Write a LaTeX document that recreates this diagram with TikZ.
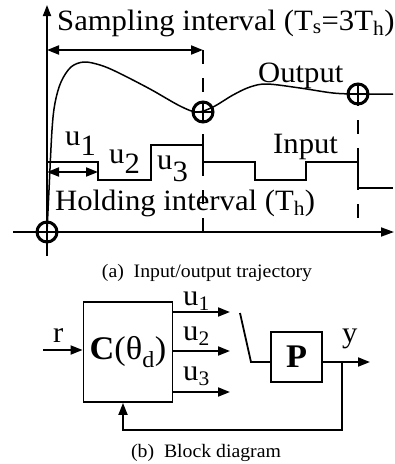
\documentclass[tikz,border=0pt]{standalone}
\usepackage{fontspec}
\setmainfont[FakeStretch=1.04]{Liberation Serif}
\usetikzlibrary{arrows.meta}
\begin{document}
\begin{tikzpicture}[x=1pt,y=-1pt]
\tikzset{
  ln/.style={line width=1.8pt},
  tipend/.style={-{Triangle[length=12pt,width=9pt]}},
  tipboth/.style={{Triangle[length=12pt,width=9pt]}-{Triangle[length=12pt,width=9pt]}},
  markc/.style={line width=3pt},
  dline/.style={line width=1.8pt, dash pattern=on 14pt off 14pt},
  lbl/.style={font=\fontsize{29.5}{30}\selectfont, inner sep=0pt, anchor=base west},
  capt/.style={font=\fontsize{19}{19}\selectfont, inner sep=0pt},
  blk/.style={draw, line width=1.8pt, inner sep=0pt},
}
\useasboundingbox (0,0) rectangle (395,464);
% ---------- (a) ----------
\coordinate (ybot) at (47,256);
\coordinate (ytop) at (47,5);
\coordinate (xl) at (13,232);
\coordinate (xr) at (394,232);
\draw[ln, -{Triangle[length=11pt,width=8pt]}] (ybot) -- (ytop);
\draw[ln, -{Triangle[length=13pt,width=9pt]}] (xl) -- (xr);
% sampling arrow
\coordinate (sa) at (47,50);
\coordinate (sb) at (203,50);
\draw[ln, tipboth] (sa) -- (sb);
% dashed verticals
\coordinate (d1a) at (203,50);
\coordinate (d1b) at (203,232);
\coordinate (d2a) at (358,92);
\coordinate (d2b) at (358,218);
\draw[dline] (d1a) -- (d1b);
\draw[dline] (d2a) -- (d2b);
% holding arrow
\coordinate (ha) at (47,172);
\coordinate (hb) at (98,172);
\draw[ln, tipboth] (ha) -- (hb);
% input staircase
\coordinate (in0) at (47,162);
\coordinate (in1) at (393,188);
\draw[ln] (in0) -- (98,162) -- (98,180) -- (151,180) -- (151,145) -- (203,145)
  -- (203,162) -- (255,162) -- (255,180) -- (306,180) -- (306,162) -- (358,162)
  -- (358,188) -- (in1);
% output curve
\draw[line width=1.5pt] plot[smooth, tension=0.55] coordinates {
  (47,232) (49,190) (52,130) (55,103) (61,82) (71,67) (84,62) (100,65) (117,72)
  (150,89) (180,106) (197,112) (213,107) (233,95) (250,87) (267,84) (300,88)
  (333,93) (358,94) (393,94)};
% marker circles
\coordinate (o0) at (47,232);
\coordinate (o1) at (203,112);
\coordinate (o2) at (358,94);
\foreach \n in {o0,o1,o2} {
  \draw[markc] (\n) circle[radius=10pt];
  \draw[line width=1.2pt] ([xshift=-9pt]\n) -- ([xshift=9pt]\n);
  \draw[line width=1.2pt] ([yshift=-9pt]\n) -- ([yshift=9pt]\n);
}
% labels
\node[lbl] (samp) at (57,30) {Sampling interval (T\textsubscript{s}=3T\textsubscript{h})};
\node[lbl] (outl) at (258,82) {Output};
\node[lbl] (inl) at (273,153) {Input};
\node[lbl] (hold) at (55,210) {Holding interval (T\textsubscript{h})};
\node[lbl] (ua) at (65,145) {u\raisebox{-10pt}{1}};
\node[lbl] (ub) at (109,163) {u\raisebox{-10pt}{2}};
\node[lbl] (uc) at (157,169) {u\raisebox{-12pt}{3}};
\node[capt] (capa) at (207,273) {(a)\ \ Input/output trajectory};
% ---------- (b) ----------
\node[blk, minimum width=89pt, minimum height=100pt, font=\fontsize{33}{33}\selectfont]
  (C) at (128,352) {\textbf{C}(θ\textsubscript{d})};
\node[blk, minimum width=51pt, minimum height=50pt, font=\fontsize{33}{33}\selectfont]
  (P) at (296.5,357) {\textbf{P}};
\coordinate (rin) at (43,350);
\draw[ln, tipend] (rin) -- (rin -| C.west);
\node[lbl] (rl) at (53,342) {r};
\coordinate (u1e) at (230,312);
\coordinate (u2e) at (230,351);
\coordinate (u3e) at (230,392);
\draw[ln, tipend] (u1e -| C.east) -- (u1e);
\draw[ln, tipend] (u2e -| C.east) -- (u2e);
\draw[ln, tipend] (u3e -| C.east) -- (u3e);
\node[lbl] (l1) at (183,305) {u\textsubscript{1}};
\node[lbl] (l2) at (183,340) {u\textsubscript{2}};
\node[lbl] (l3) at (183,380) {u\textsubscript{3}};
\coordinate (sw1) at (240,313);
\coordinate (sw2) at (251,362);
\draw[ln] (sw1) -- (sw2) -- (sw2 -| P.west);
\coordinate (yo) at (370,362);
\draw[ln, tipend] (yo -| P.east) -- (yo);
\node[lbl] (yl) at (342,342) {y};
\coordinate (fb) at (342,362);
\coordinate (fbc) at (342,430);
\coordinate (fbl) at (123,430);
\draw[ln, tipend] (fb) -- (fbc) -- (fbl) -- (fbl |- C.south);
\node[capt] (capb) at (206,453) {(b)\ \ Block diagram};
\end{tikzpicture}
\end{document}
